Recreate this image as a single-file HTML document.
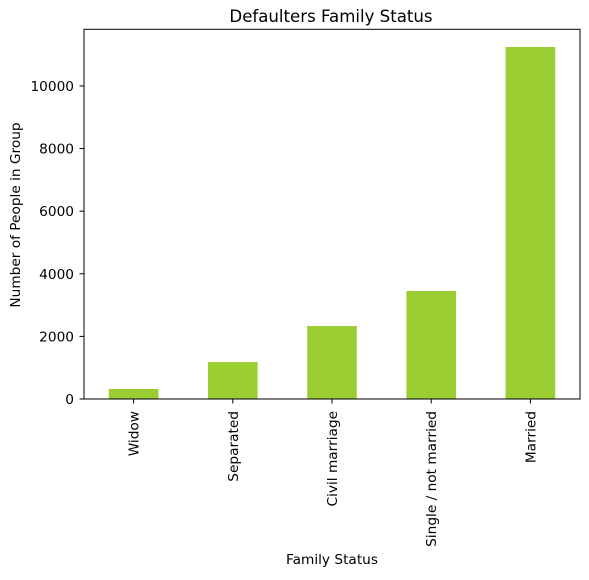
<!DOCTYPE html>
<html><head><meta charset="utf-8"><style>
body{margin:0;background:#fff;font-family:"DejaVu Sans","Liberation Sans",sans-serif;}
svg text{font-family:"DejaVu Sans","Liberation Sans",sans-serif;fill:#000;}
</style></head><body>
<svg id="chart" width="589" height="576" xmlns="http://www.w3.org/2000/svg">
<text x="331" y="22" font-size="16.6" text-anchor="middle">Defaulters Family Status</text>
<g id="bars"></g>
<g id="yticks"></g>
<g id="xticks"></g>
<rect x="84" y="29.3" width="496" height="369.7" fill="none" stroke="#000" stroke-width="1"/>
<text transform="translate(20,215) rotate(-90)" font-size="13.7" text-anchor="middle">Number of People in Group</text>
<text x="332" y="564" font-size="13.7" text-anchor="middle">Family Status</text>
</svg>
<script>
const categories=["Widow","Separated","Civil marriage","Single / not married","Married"];
const values=[320,1180,2330,3450,11245];
const yTicks=[0,2000,4000,6000,8000,10000];
const L=84,R=580,T=29.3,B=399,yMax=11810;
const ns="http://www.w3.org/2000/svg";
const y=v=>B-(B-T)*v/yMax;
const step=(R-L)/categories.length;
const x=i=>L+step*(i+0.5);
function mk(t,a,p){const e=document.createElementNS(ns,t);for(const k in a)e.setAttribute(k,a[k]);p.appendChild(e);return e;}
const gb=document.getElementById('bars'),gy=document.getElementById('yticks'),gx=document.getElementById('xticks');
values.forEach((v,i)=>{const w=step*0.5;const r=mk('rect',{x:x(i)-w/2,y:y(v),width:w,height:B-y(v),fill:'#9acd32'},gb);

});
yTicks.forEach(t=>{const l=mk('line',{x1:L-4.5,x2:L,y1:y(t),y2:y(t),stroke:'#000'},gy);


const tx=mk('text',{x:L-10,y:y(t)+5,'font-size':13.7,'text-anchor':'end'},gy);tx.textContent=t;

});
categories.forEach((c,i)=>{const l=mk('line',{x1:x(i),x2:x(i),y1:B,y2:B+4.5,stroke:'#000'},gx);


const tx=mk('text',{transform:`translate(${x(i)+5},${B+12}) rotate(-90)`,'font-size':13.7,'text-anchor':'end'},gx);tx.textContent=c;

});
</script>
</body></html>
